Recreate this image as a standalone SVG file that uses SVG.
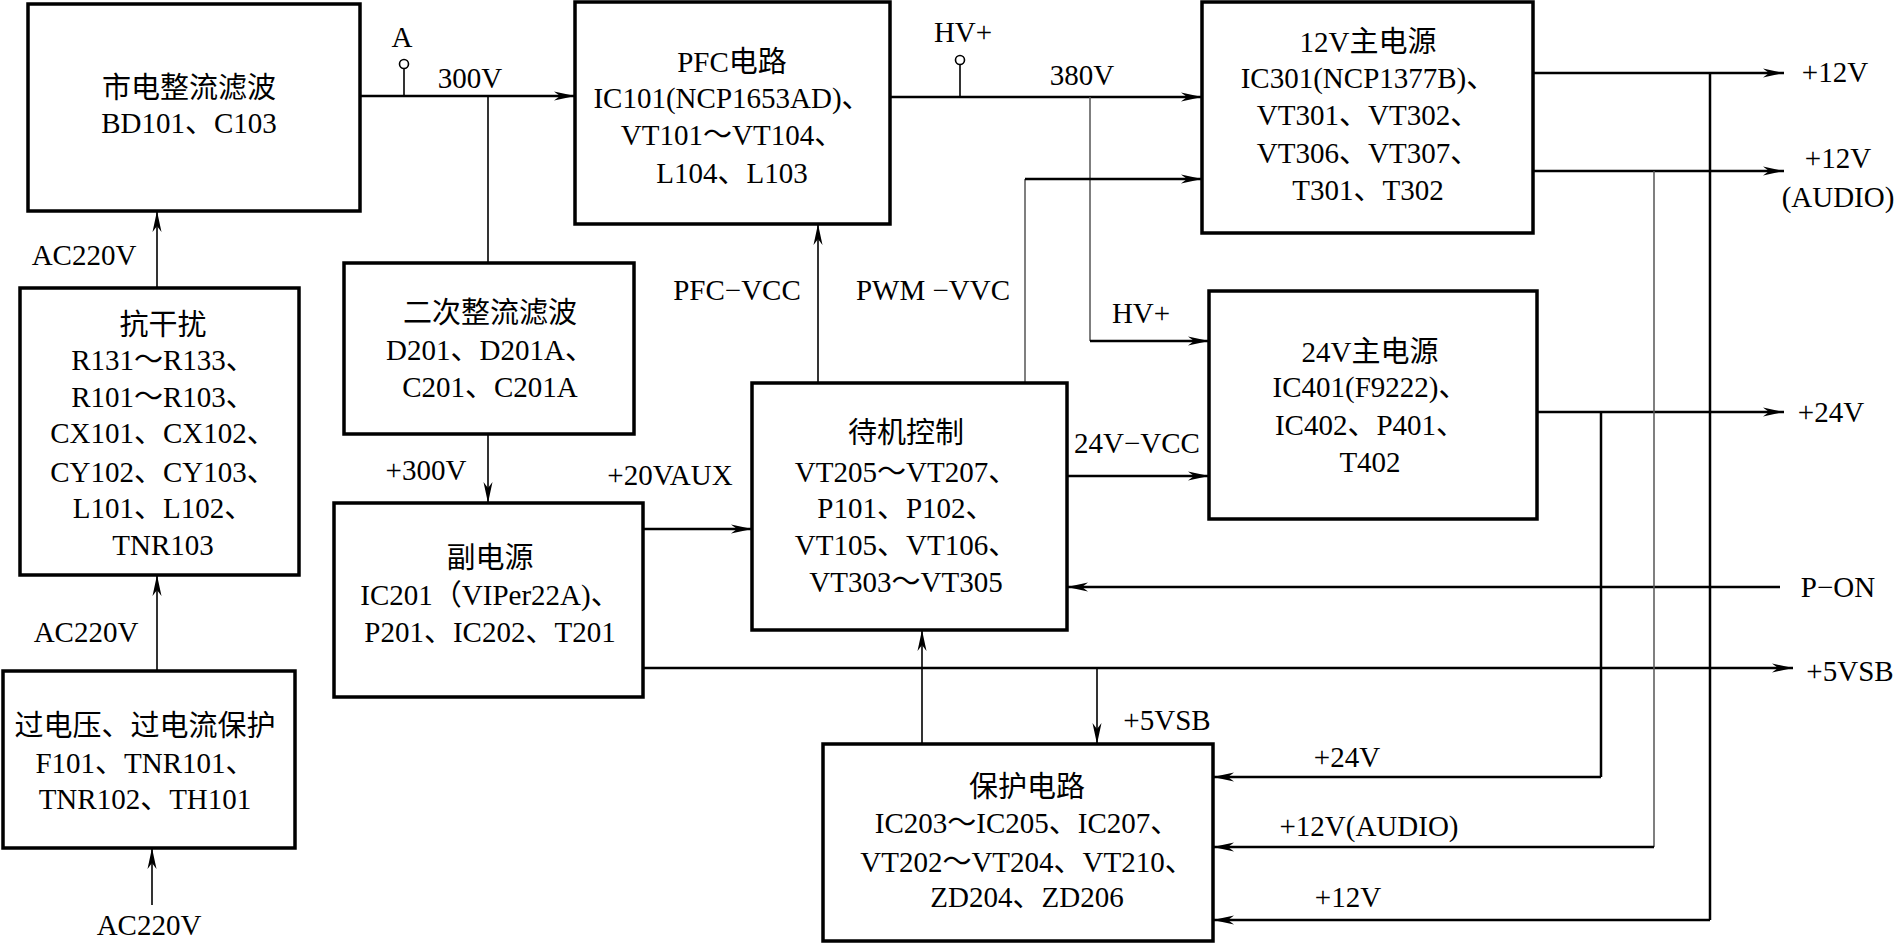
<svg xmlns="http://www.w3.org/2000/svg" width="1899" height="944" viewBox="0 0 1899 944">
<defs>
<style>
.box{fill:#fff;stroke:#000;stroke-width:3.5}
.w{fill:none;stroke:#000;stroke-width:2.5}
.t{fill:none;stroke:#000;stroke-width:1.6}
.g{fill:none;stroke:#555;stroke-width:1.5}
.tap{fill:#fff;stroke:#000;stroke-width:1.6}
text{font-family:"Liberation Serif","Noto Sans CJK SC",serif;font-size:29px;fill:#000;text-anchor:middle}
</style>
<marker id="ar" markerUnits="userSpaceOnUse" viewBox="-22 -6 24 12" refX="0" refY="0" markerWidth="24" markerHeight="12" orient="auto">
<path d="M0,0 L-21,-4.5 L-15,0 L-21,4.5 Z" fill="#000"/>
</marker>
</defs>
<rect width="1899" height="944" fill="#fff"/>

<g id="connectors">
<path class="w" d="M360,96 H575" marker-end="url(#ar)"/>
<path class="t" d="M404,96 V69"/>
<circle class="tap" cx="404" cy="64" r="4.5"/>
<path class="t" d="M488,96 V263"/>
<path class="t" d="M488,434 V503" marker-end="url(#ar)"/>
<path class="w" d="M890,97 H1202" marker-end="url(#ar)"/>
<path class="t" d="M960,97 V65"/>
<circle class="tap" cx="960" cy="60" r="4.5"/>
<path class="g" d="M1090,97 V341"/>
<path class="w" d="M1090,341 H1209" marker-end="url(#ar)"/>
<path class="g" d="M1025,383 V179"/>
<path class="w" d="M1025,179 H1202" marker-end="url(#ar)"/>
<path class="t" d="M818,383 V224" marker-end="url(#ar)"/>
<path class="w" d="M643,529 H752" marker-end="url(#ar)"/>
<path class="w" d="M1067,476 H1209" marker-end="url(#ar)"/>
<path class="w" d="M1780,587 H1067" marker-end="url(#ar)"/>
<path class="w" d="M643,668 H1793" marker-end="url(#ar)"/>
<path class="t" d="M1097,668 V744" marker-end="url(#ar)"/>
<path class="t" d="M922,744 V630" marker-end="url(#ar)"/>
<path class="w" d="M1533,73 H1784" marker-end="url(#ar)"/>
<path class="w" d="M1533,171 H1784" marker-end="url(#ar)"/>
<path class="w" d="M1537,412 H1784" marker-end="url(#ar)"/>
<path class="w" d="M1710,73 V920"/>
<path class="w" d="M1710,920 H1213" marker-end="url(#ar)"/>
<path class="g" d="M1654,171 V847"/>
<path class="w" d="M1654,847 H1213" marker-end="url(#ar)"/>
<path class="w" d="M1601,412 V777"/>
<path class="w" d="M1601,777 H1213" marker-end="url(#ar)"/>
<path class="t" d="M157,288 V211" marker-end="url(#ar)"/>
<path class="t" d="M157,671 V575" marker-end="url(#ar)"/>
<path class="t" d="M152,905 V848" marker-end="url(#ar)"/>
</g>

<g id="labels">
<text x="84" y="265">AC220V</text>
<text x="86" y="642">AC220V</text>
<text x="149" y="935">AC220V</text>
<text x="402" y="47">A</text>
<text x="470" y="88">300V</text>
<text x="963" y="42">HV+</text>
<text x="1082" y="85">380V</text>
<text x="737" y="300">PFC−VCC</text>
<text x="933" y="300">PWM −VVC</text>
<text x="1141" y="323">HV+</text>
<text x="426" y="480">+300V</text>
<text x="670" y="485">+20VAUX</text>
<text x="1137" y="453">24V−VCC</text>
<text x="1167" y="730">+5VSB</text>
<text x="1835" y="82">+12V</text>
<text x="1838" y="168">+12V</text>
<text x="1838" y="207">(AUDIO)</text>
<text x="1831" y="422">+24V</text>
<text x="1838" y="597">P−ON</text>
<text x="1850" y="681">+5VSB</text>
<text x="1347" y="767">+24V</text>
<text x="1369" y="836">+12V(AUDIO)</text>
<text x="1348" y="907">+12V</text>
</g>

<g id="mains">
<rect class="box" x="28" y="4" width="332" height="207"/>
<text x="189" y="98">市电整流滤波</text>
<text x="189" y="133">BD101、C103</text>
</g>

<g id="emi">
<rect class="box" x="20" y="288" width="279" height="287"/>
<text x="163" y="335">抗干扰</text>
<text x="163" y="370">R131～R133、</text>
<text x="163" y="407">R101～R103、</text>
<text x="163" y="443">CX101、CX102、</text>
<text x="163" y="482">CY102、CY103、</text>
<text x="163" y="518">L101、L102、</text>
<text x="163" y="555">TNR103</text>
</g>

<g id="protect-in">
<rect class="box" x="3" y="671" width="292" height="177"/>
<text x="145" y="736">过电压、过电流保护</text>
<text x="145" y="773">F101、TNR101、</text>
<text x="145" y="809">TNR102、TH101</text>
</g>

<g id="pfc">
<rect class="box" x="575" y="2" width="315" height="222"/>
<text x="732" y="72">PFC电路</text>
<text x="732" y="108">IC101(NCP1653AD)、</text>
<text x="732" y="145">VT101～VT104、</text>
<text x="732" y="183">L104、L103</text>
</g>

<g id="secondary-rect">
<rect class="box" x="344" y="263" width="290" height="171"/>
<text x="490" y="323">二次整流滤波</text>
<text x="490" y="360">D201、D201A、</text>
<text x="490" y="397">C201、C201A</text>
</g>

<g id="aux">
<rect class="box" x="334" y="503" width="309" height="194"/>
<text x="490" y="568">副电源</text>
<text x="490" y="605">IC201（VIPer22A)、</text>
<text x="490" y="642">P201、IC202、T201</text>
</g>

<g id="standby">
<rect class="box" x="752" y="383" width="315" height="247"/>
<text x="906" y="443">待机控制</text>
<text x="906" y="482">VT205～VT207、</text>
<text x="906" y="518">P101、P102、</text>
<text x="906" y="555">VT105、VT106、</text>
<text x="906" y="592">VT303～VT305</text>
</g>

<g id="main12">
<rect class="box" x="1202" y="2" width="331" height="231"/>
<text x="1368" y="52">12V主电源</text>
<text x="1368" y="88">IC301(NCP1377B)、</text>
<text x="1368" y="125">VT301、VT302、</text>
<text x="1368" y="163">VT306、VT307、</text>
<text x="1368" y="200">T301、T302</text>
</g>

<g id="main24">
<rect class="box" x="1209" y="291" width="328" height="228"/>
<text x="1370" y="362">24V主电源</text>
<text x="1370" y="397">IC401(F9222)、</text>
<text x="1370" y="435">IC402、P401、</text>
<text x="1370" y="472">T402</text>
</g>

<g id="protection">
<rect class="box" x="823" y="744" width="390" height="197"/>
<text x="1027" y="797">保护电路</text>
<text x="1027" y="833">IC203～IC205、IC207、</text>
<text x="1027" y="872">VT202～VT204、VT210、</text>
<text x="1027" y="907">ZD204、ZD206</text>
</g>
</svg>
